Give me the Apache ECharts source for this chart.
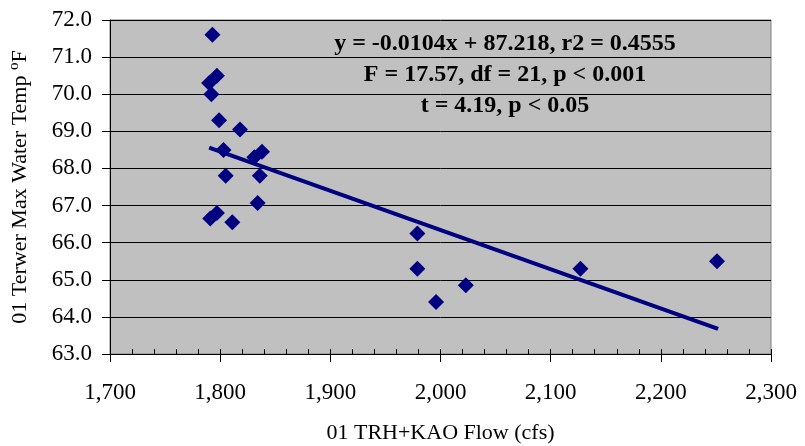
<!DOCTYPE html>
<html>
<head>
<meta charset="utf-8">
<script src="https://cdn.jsdelivr.net/npm/echarts@6/dist/echarts.min.js"></script>
<style>
  html, body { margin: 0; padding: 0; background: #fff; }
  #chart { width: 805px; height: 446px; }
</style>
</head>
<body>
<div id="chart"></div>
<script>
// flow (cfs) vs max water temp (F)
const flow = [1793, 1797, 1790, 1792, 1799, 1818, 1803, 1831, 1838, 1805, 1836, 1834, 1791, 1797, 1811, 1979, 1979, 1996, 2023, 2127, 2251];
const temp = [71.6, 70.5, 70.3, 70.0, 69.3, 69.05, 68.5, 68.3, 68.45, 67.8, 67.8, 67.07, 66.65, 66.8, 66.55, 66.25, 65.3, 64.4, 64.85, 65.3, 65.5];

// regression line ends
const trendFlow = [1790, 2252];
const trendTemp = [68.56, 63.68];

const statLines = [
  "y = -0.0104x + 87.218, r2 = 0.4555",
  "F = 17.57, df = 21, p < 0.001",
  "t = 4.19, p < 0.05"
];

const serif = "'Liberation Serif', 'Times New Roman', serif";
const navy = "#000080";

var dom = document.getElementById('chart');
var myChart = echarts.init(dom, null, { renderer: 'canvas' });

var option = {
  animation: false,
  grid: {
    left: 110,
    top: 20,
    right: 34,
    bottom: 92,
    outerBoundsMode: 'none',
    containLabel: false,
    show: true,
    backgroundColor: '#c0c0c0',
    borderColor: '#808080',
    borderWidth: 1
  },
  xAxis: [
    {
      type: 'value',
      min: 1700,
      max: 2300,
      interval: 100,
      name: '01 TRH+KAO Flow (cfs)',
      nameLocation: 'middle',
      nameGap: 68,
      nameTextStyle: { fontFamily: serif, fontSize: 22, color: '#000' },
      axisLine: { show: true, onZero: false, lineStyle: { color: '#000', width: 1 } },
      axisTick: { show: true, inside: false, length: 8, lineStyle: { color: '#000' } },
      axisLabel: {
        margin: 27,
        fontFamily: serif,
        fontSize: 23,
        color: '#000',
        formatter: v => v.toLocaleString('en-US')
      },
      splitLine: { show: false }
    },
    {
      // small inside ticks every 20 cfs
      type: 'value',
      min: 1700,
      max: 2300,
      interval: 20,
      position: 'bottom',
      axisLine: { show: false },
      axisTick: { show: true, inside: true, length: 5, lineStyle: { color: '#000' } },
      axisLabel: { show: false },
      splitLine: { show: false }
    }
  ],
  yAxis: {
    type: 'value',
    min: 63,
    max: 72,
    interval: 1,
    name: '01 Terwer Max Water Temp {sup|o}F',
    nameLocation: 'middle',
    nameGap: 76,
    nameRotate: 90,
    nameTextStyle: {
      fontFamily: serif,
      fontSize: 22,
      color: '#000',
      rich: {
        sup: { fontFamily: serif, fontSize: 15, color: '#000', verticalAlign: 'top', padding: [0, 0, 12, 0] }
      }
    },
    axisLine: { show: true, onZero: false, lineStyle: { color: '#000', width: 1 } },
    axisTick: { show: true, inside: false, length: 8, lineStyle: { color: '#000' } },
    axisLabel: {
      margin: 18,
      fontFamily: serif,
      fontSize: 23,
      color: '#000',
      formatter: v => v.toFixed(1)
    },
    splitLine: { show: true, lineStyle: { color: '#000', width: 1 } }
  },
  graphic: statLines.map((t, i) => ({
    type: 'text',
    x: 505,
    y: 44 + i * 31,
    style: {
      text: t,
      textAlign: 'center',
      textVerticalAlign: 'middle',
      fontFamily: serif,
      fontWeight: 'bold',
      fontSize: 24,
      fill: '#000'
    },
    z: 100
  })),
  series: [
    {
      type: 'line',
      data: trendFlow.map((x, i) => [x, trendTemp[i]]),
      symbol: 'none',
      lineStyle: { color: navy, width: 4 },
      z: 2
    },
    {
      type: 'scatter',
      data: flow.map((x, i) => [x, temp[i]]),
      symbol: 'diamond',
      symbolSize: 16,
      itemStyle: { color: navy, opacity: 1 },
      z: 3
    }
  ]
};

myChart.setOption(option);
window.addEventListener('resize', myChart.resize);
</script>
</body>
</html>
